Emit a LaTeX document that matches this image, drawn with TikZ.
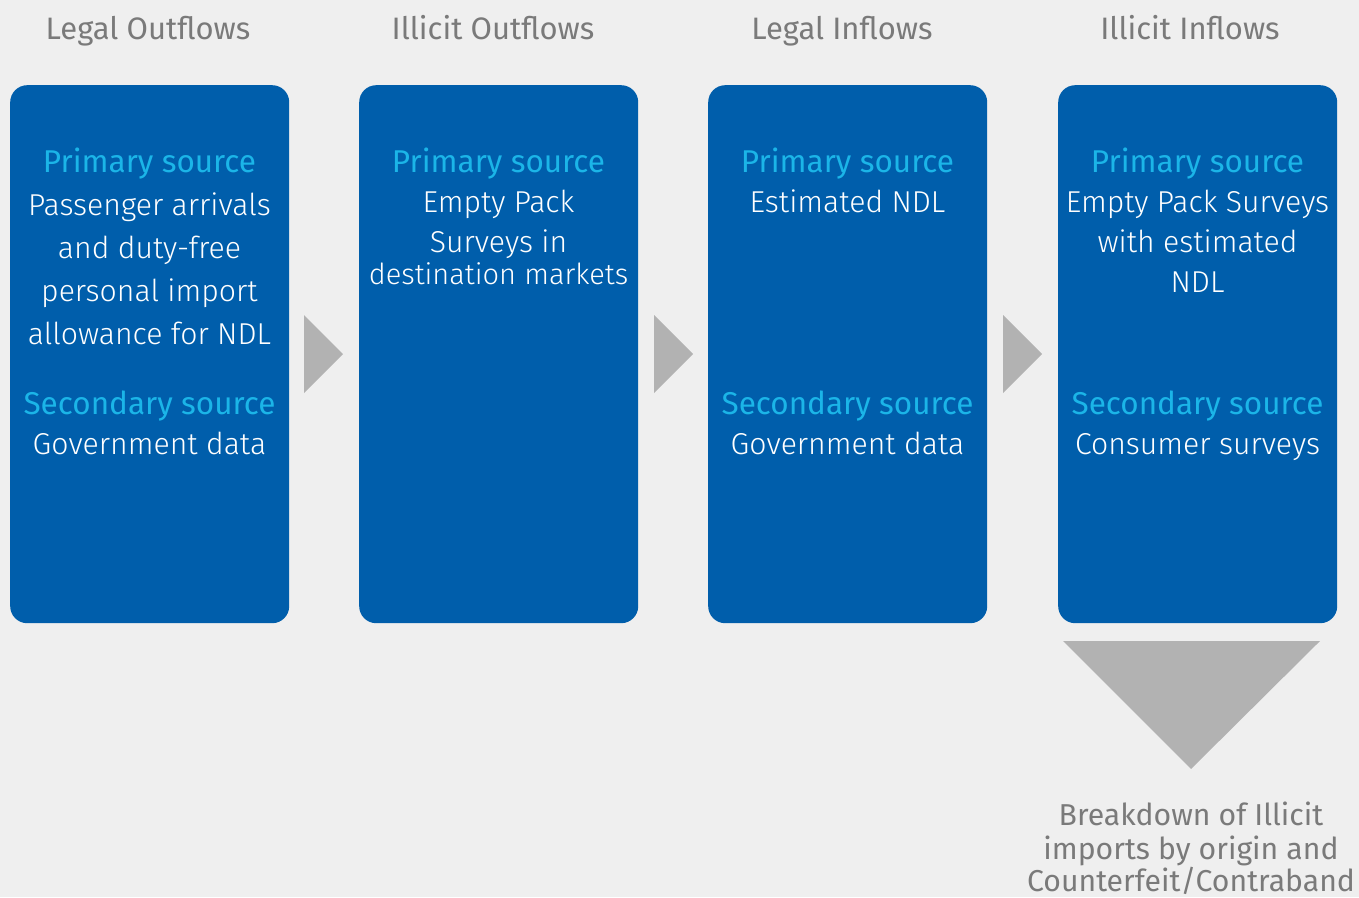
\documentclass[tikz,border=0pt]{standalone}
\usepackage{fontspec}
\setmainfont{Fira Sans}
\newfontfamily\lightf{Fira Sans Light}
\definecolor{bg}{HTML}{EFEFEF}
\definecolor{boxblue}{HTML}{005EAB}
\definecolor{cyantxt}{HTML}{1BB5E8}
\definecolor{hdrgray}{HTML}{7A7A7A}
\definecolor{trigray}{HTML}{B2B2B2}
\begin{document}
\begin{tikzpicture}[x=1pt,y=-1pt,
  panel/.style={draw=none,fill=boxblue,rounded corners=17pt,minimum width=279pt,minimum height=538pt,inner sep=0pt,anchor=north west},
  hdr/.style={anchor=base,inner sep=0pt,text=hdrgray,font=\fontsize{31}{35}\selectfont},
  ftr/.style={anchor=base,inner sep=0pt,text=hdrgray,font=\fontsize{30.2}{34}\selectfont},
  cy/.style={anchor=base,inner sep=0pt,text=cyantxt,font=\fontsize{31.5}{35}\selectfont},
  wt/.style={anchor=base,inner sep=0pt,text=white,font=\lightf\fontsize{30.2}{34}\selectfont},
  tri/.style={fill=trigray,draw=none}]
\fill[bg] (0,0) rectangle (1359,897);
\useasboundingbox (0,0) rectangle (1359,897);
% headers
\node[hdr] (h1) at (148,39) {Legal Outflows};
\node[hdr] (h2) at (493,39) {Illicit Outflows};
\node[hdr] (h3) at (842,39) {Legal Inflows};
\node[hdr] (h4) at (1190,39) {Illicit Inflows};
% panels
\node[panel] (b1) at (10,85) {};
\node[panel] (b2) at (359,85) {};
\node[panel] (b3) at (708,85) {};
\node[panel] (b4) at (1058,85) {};
% arrows
\fill[tri] (304,315) -- (343,354) -- (304,393) -- cycle;
\fill[tri] (654,315) -- (693,354) -- (654,393) -- cycle;
\fill[tri] (1003,315) -- (1042,354) -- (1003,393) -- cycle;
\fill[tri] (1063,641) -- (1320,641) -- (1191,769) -- cycle;
% box 1
\node[cy] (p1) at (149.5,172) {Primary source};
\node[wt] (p1a) at (149.5,215) {Passenger arrivals};
\node[wt] (p1b) at (149.5,258) {and duty-free};
\node[wt] (p1c) at (149.5,301) {personal import};
\node[wt] (p1d) at (149.5,344) {allowance for NDL};
\node[cy] (s1) at (149.5,414) {Secondary source};
\node[wt] (s1a) at (149.5,454) {Government data};
% box 2
\node[cy] (p2) at (498.5,172) {Primary source};
\node[wt] (p2a) at (498.5,212) {Empty Pack};
\node[wt] (p2b) at (498.5,252) {Surveys in};
\node[wt,font=\lightf\fontsize{29}{33}\selectfont] (p2c) at (498.5,284) {destination markets};
% box 3
\node[cy] (p3) at (847.5,172) {Primary source};
\node[wt] (p3a) at (847.5,212) {Estimated NDL};
\node[cy] (s3) at (847.5,414) {Secondary source};
\node[wt] (s3a) at (847.5,454) {Government data};
% box 4
\node[cy] (p4) at (1197.5,172) {Primary source};
\node[wt] (p4a) at (1197.5,212) {Empty Pack Surveys};
\node[wt] (p4b) at (1197.5,252) {with estimated};
\node[wt] (p4c) at (1197.5,292) {NDL};
\node[cy] (s4) at (1197.5,414) {Secondary source};
\node[wt] (s4a) at (1197.5,454) {Consumer surveys};
% bottom text
\node[ftr] (f1) at (1191,825) {Breakdown of Illicit};
\node[ftr] (f2) at (1191,859) {imports by origin and};
\node[ftr] (f3) at (1191,891) {Counterfeit/Contraband};
\end{tikzpicture}
\end{document}
